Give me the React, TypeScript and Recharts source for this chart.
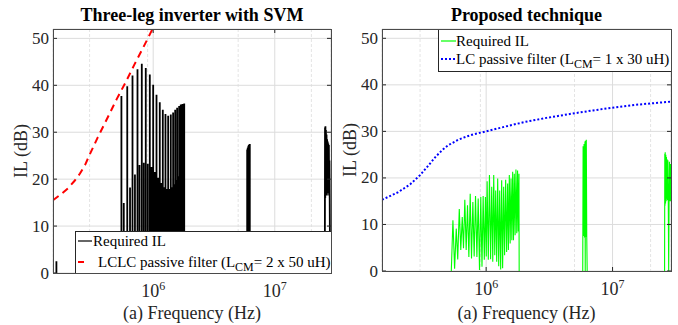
import { LineChart, Line, XAxis, YAxis, CartesianGrid, Legend } from "recharts";

const FONT = '"Liberation Serif", "Times New Roman", Times, serif';
const AXIS = "#262626";
const PLOT_TOP = 29;
const X_DOMAIN: [number, number] = [1.5e5, 2.9e7];

// tick values
const majorTicks = [1e6, 1e7];
const minorTicks = [2e5, 3e5, 4e5, 5e5, 6e5, 7e5, 8e5, 9e5, 2e6, 3e6, 4e6, 5e6, 6e6, 7e6, 8e6, 9e6, 2e7];
const dbTicks = [0, 10, 20, 30, 40, 50];

// --- Three-leg inverter with SVM: required IL (kHz / dB) ---
const svmLowKHz = [160];
const svmLowDb = [2.5];

const svmBandKHz = [548, 573, 612, 645, 676, 708, 743, 772, 806, 837, 869, 903, 938, 967, 1000, 1032, 1065, 1098, 1133, 1165, 1200, 1230, 1262, 1295, 1328, 1362, 1396, 1428, 1459, 1490, 1517, 1545, 1574, 1605, 1635, 1660, 1686, 1715, 1741, 1770, 1800];
const svmBandDb = [37.7, 14.9, 39.8, 18.2, 42.1, 21.0, 43.4, 23.0, 44.6, 23.5, 43.7, 23.3, 42.3, 22.6, 40.1, 21.5, 38.0, 20.3, 36.4, 19.2, 34.8, 18.3, 33.9, 17.9, 33.5, 17.9, 33.8, 18.3, 34.2, 18.9, 34.8, 19.8, 35.2, 20.6, 35.6, 21.5, 35.9, 22.4, 36.0, 23.4, 36.1];

const svmMidKHz = [5930, 5990, 6050, 6110, 6170, 6230];
const svmMidDb = [26.3, 26.7, 27.0, 27.3, 27.4, 27.5];

const svmHighKHz = [25800, 25900, 26000, 26100, 26200, 26350, 26500, 26650, 26800, 26950, 27100, 27250, 27400, 27550, 27700, 27850, 28000, 28150, 28300, 28500];
const svmHighDb = [0, 31.0, 16.0, 31.3, 16.5, 30.5, 16.5, 29.5, 16.5, 28.5, 17.0, 28.0, 17.0, 27.6, 17.0, 27.3, 16.5, 24.0, 15.5, 0];

// LCLC passive filter (LCM = 2 x 50 uH)
const lclcKHz = [150, 175, 200, 225, 250, 275, 300, 350, 400, 500, 600, 700, 800, 900, 1000];
const lclcDb = [15.5, 16.8, 18.1, 19.6, 21.2, 23.0, 25.2, 28.9, 31.9, 37.0, 40.9, 44.4, 47.3, 49.9, 52.3];

// --- Proposed technique: required IL (kHz / dB) ---
const propBandKHz = [530, 546, 563, 580, 596, 613, 630, 647, 662, 678, 695, 712, 730, 748, 766, 785, 804, 824, 845, 865, 886, 907, 927, 947, 967, 987, 1002, 1018, 1040, 1062, 1085, 1107, 1128, 1148, 1170, 1190, 1212, 1234, 1257, 1280, 1303, 1327, 1350, 1376, 1400, 1427, 1452, 1479, 1500, 1525, 1549, 1573, 1597, 1621, 1645, 1670, 1695, 1721, 1747, 1773, 1795, 1818, 1825];
const propBandDb = [0, 10.9, 0.5, 9.1, 2.5, 13.3, 4.5, 11.6, 4.9, 15.3, 4.5, 14.1, 3.0, 16.6, 2.7, 14.8, 3.1, 16.1, 3.0, 15.6, 0.2, 15.9, 0.9, 16.1, 2.4, 15.9, 3.1, 19.3, 2.4, 20.6, 2.5, 18.1, 2.0, 20.6, 3.4, 17.3, 2.0, 19.9, 1.0, 17.3, 0.3, 19.5, 0.6, 18.1, 3.4, 19.6, 4.1, 18.8, 4.5, 20.6, 5.9, 19.9, 6.6, 21.3, 6.6, 20.9, 7.7, 21.8, 8.1, 21.6, 8.5, 20.9, 0];

const propMidKHz = [5810, 5850, 5900, 5950, 6000, 6050, 6080, 6100, 6150, 6200, 6250, 6300];
const propMidDb = [0, 26.8, 7.5, 27.3, 7.2, 27.8, 0, 28.0, 7.3, 28.2, 7.5, 0];

const propHighKHz = [25800, 25900, 26000, 26100, 26250, 26400, 26550, 26700, 26850, 27000, 27200, 27400, 27600, 27800, 28000, 28200, 28400, 28600, 28800, 29000];
const propHighDb = [0, 25.2, 14.0, 25.5, 14.5, 25.0, 15.0, 24.5, 15.5, 24.0, 15.2, 23.8, 15.0, 0, 15.2, 23.5, 15.0, 23.0, 15.0, 23.0];

// LC passive filter (LCM = 1 x 30 uH)
const lcKHz = [150, 200, 250, 300, 350, 400, 450, 500, 600, 700, 800, 1000, 1500, 2000, 3000, 5000, 7000, 10000, 15000, 20000, 29000];
const lcDb = [15.3, 16.9, 18.6, 20.6, 22.7, 24.6, 26.0, 27.0, 28.2, 28.9, 29.4, 30.0, 31.2, 32.0, 32.9, 33.9, 34.5, 35.1, 35.7, 36.0, 36.4];

type Pt = { f: number; v: number | null };

const toPts = (khz: number[], db: number[]): Pt[] => khz.map((k, i) => ({ f: k * 1000, v: db[i] }));
// each harmonic drawn as a vertical spike from the floor
const toStems = (khz: number[], db: number[]): Pt[] =>
  khz.flatMap((k, i) => [
    { f: k * 1000, v: 0 },
    { f: k * 1000, v: db[i] },
    { f: k * 1000, v: 0 },
  ]);
const gap = (khz: number): Pt => ({ f: khz * 1000, v: null });

const svmRequired = [
  ...toStems(svmLowKHz, svmLowDb),
  gap(300),
  ...toStems(svmBandKHz, svmBandDb),
  gap(3000),
  ...toStems(svmMidKHz, svmMidDb),
  gap(15000),
  ...toPts(svmHighKHz, svmHighDb),
];
const propRequired = [
  ...toPts(propBandKHz, propBandDb),
  gap(3000),
  ...toPts(propMidKHz, propMidDb),
  gap(15000),
  ...toPts(propHighKHz, propHighDb),
];

interface Series {
  name: string;
  data: Pt[];
  color: string;
  width: number;
  dash?: string;
}

interface LegendRow {
  label: React.ReactNode;
  color: string;
  dash?: string;
  sample: [number, number];
  textLeft: number;
}

interface PanelProps {
  left: number;
  width: number;
  plotLeft: number;
  plotRight: number;
  plotBottom: number;
  title: string;
  series: Series[];
  legendBox: { left: number; top: number; width: number; height: number };
  legendRows: LegendRow[];
  rowCenters: number[];
}

const Panel = ({ left, width, plotLeft, plotRight, plotBottom, title, series, legendBox, legendRows, rowCenters }: PanelProps) => {
  const plotMid = (plotLeft + plotRight) / 2;

  const majorTick = (props: any) => {
    const { x, payload } = props;
    const exp = Math.round(Math.log10(payload.value));
    return (
      <g>
        <line x1={x} x2={x} y1={plotBottom} y2={plotBottom - 4} stroke={AXIS} />
        <line x1={x} x2={x} y1={PLOT_TOP} y2={PLOT_TOP + 4} stroke={AXIS} />
        <text x={x} y={plotBottom + 24} textAnchor="middle" fontFamily={FONT} fontSize={18} fill={AXIS}>
          10
          <tspan dy={-7} fontSize={12}>
            {exp}
          </tspan>
        </text>
      </g>
    );
  };

  const minorTick = (props: any) => {
    const { x } = props;
    return (
      <g>
        <line x1={x} x2={x} y1={plotBottom} y2={plotBottom - 2.5} stroke={AXIS} />
        <line x1={x} x2={x} y1={PLOT_TOP} y2={PLOT_TOP + 2.5} stroke={AXIS} />
      </g>
    );
  };

  const dbTick = (props: any) => {
    const { y, payload } = props;
    return (
      <g>
        <line x1={plotLeft} x2={plotLeft + 4} y1={y} y2={y} stroke={AXIS} />
        <line x1={plotRight} x2={plotRight - 4} y1={y} y2={y} stroke={AXIS} />
        <text x={plotLeft - 4} y={y} textAnchor="end" dominantBaseline="central" fontFamily={FONT} fontSize={17} fill={AXIS}>
          {payload.value}
        </text>
      </g>
    );
  };

  const xLabel = () => (
    <text x={plotMid} y={313} textAnchor="middle" dominantBaseline="central" fontFamily={FONT} fontSize={18} fill={AXIS}>
      (a) Frequency (Hz)
    </text>
  );

  const yCx = plotLeft - 32;
  const yCy = (PLOT_TOP + plotBottom) / 2;
  const yLabel = () => (
    <text
      x={yCx}
      y={yCy}
      transform={`rotate(-90 ${yCx} ${yCy})`}
      textAnchor="middle"
      dominantBaseline="central"
      fontFamily={FONT}
      fontSize={18}
      fill={AXIS}
    >
      IL (dB)
    </text>
  );

  const legendContent = () => (
    <div
      style={{
        position: "relative",
        width: legendBox.width,
        height: legendBox.height,
        boxSizing: "border-box",
        border: `1px solid ${AXIS}`,
        background: "#fff",
        fontFamily: FONT,
        fontSize: 15,
        color: "#000",
      }}
    >
      {legendRows.map((r, i) => (
        <div key={i}>
          <svg style={{ position: "absolute", left: 0, top: 0 }} width={legendBox.width} height={legendBox.height}>
            <line
              x1={r.sample[0]}
              x2={r.sample[1]}
              y1={rowCenters[i]}
              y2={rowCenters[i]}
              stroke={r.color}
              strokeWidth={r.dash ? 2 : 1.2}
              strokeDasharray={r.dash}
            />
          </svg>
          <div
            style={{
              position: "absolute",
              left: r.textLeft,
              top: rowCenters[i] - 10,
              height: 20,
              lineHeight: "20px",
              whiteSpace: "nowrap",
            }}
          >
            {r.label}
          </div>
        </div>
      ))}
    </div>
  );

  return (
    <div style={{ position: "absolute", left, top: 0, width, height: 325 }}>
      <div
        style={{
          position: "absolute",
          left: plotMid - 150,
          width: 300,
          top: 5,
          lineHeight: "20px",
          textAlign: "center",
          fontFamily: FONT,
          fontWeight: "bold",
          fontSize: 18,
          color: "#000",
        }}
      >
        {title}
      </div>
      <LineChart width={width} height={325} margin={{ top: PLOT_TOP, right: width - plotRight, left: 0, bottom: 0 }}>
        <CartesianGrid xAxisId="minor" horizontal={false} stroke="#e4e4e4" strokeDasharray="3 2" />
        <CartesianGrid xAxisId="main" stroke="#dcdcdc" />
        <XAxis
          xAxisId="minor"
          orientation="top"
          height={0}
          type="number"
          scale="log"
          dataKey="f"
          domain={X_DOMAIN}
          allowDataOverflow
          ticks={minorTicks}
          axisLine={false}
          tickLine={false}
          tickSize={0}
          tick={minorTick}
        />
        <XAxis
          xAxisId="main"
          type="number"
          scale="log"
          dataKey="f"
          domain={X_DOMAIN}
          allowDataOverflow
          ticks={majorTicks}
          height={325 - plotBottom}
          axisLine={false}
          tickLine={false}
          tickSize={0}
          tick={majorTick}
          label={xLabel}
        />
        <YAxis
          width={plotLeft}
          type="number"
          domain={[0, 52]}
          allowDataOverflow
          ticks={dbTicks}
          axisLine={false}
          tickLine={false}
          tickSize={0}
          tick={dbTick}
          label={yLabel}
        />
        {series.map((s) => (
          <Line
            key={s.name}
            xAxisId="main"
            data={s.data}
            dataKey="v"
            name={s.name}
            type="linear"
            stroke={s.color}
            strokeWidth={s.width}
            strokeDasharray={s.dash}
            dot={false}
            activeDot={false}
            isAnimationActive={false}
          />
        ))}
        <Legend
          layout="vertical"
          align="center"
          verticalAlign="middle"
          content={legendContent}
          wrapperStyle={{ left: legendBox.left, top: legendBox.top, width: legendBox.width, height: legendBox.height }}
        />
      </LineChart>
      <div
        style={{
          position: "absolute",
          left: plotLeft,
          top: PLOT_TOP,
          width: plotRight - plotLeft + 1,
          height: plotBottom - PLOT_TOP + 1,
          boxSizing: "border-box",
          border: "1px solid #4a4a4a",
          pointerEvents: "none",
        }}
      />
    </div>
  );
};

const cm = (text: string) => (
  <>
    {text.split("|")[0]}
    <span style={{ fontSize: 12, position: "relative", top: 4 }}>CM</span>
    {text.split("|")[1]}
  </>
);

export default function App() {
  return (
    <div style={{ position: "absolute", left: 0, top: 0, width: 678, height: 325, background: "#fff" }}>
      <Panel
        left={0}
        width={339}
        plotLeft={53}
        plotRight={331}
        plotBottom={273}
        title="Three-leg inverter with SVM"
        series={[
          { name: "Required IL", data: svmRequired, color: "#000000", width: 1.8 },
          { name: "LCLC passive filter", data: toPts(lclcKHz, lclcDb), color: "#ff0000", width: 2, dash: "7 5" },
        ]}
        legendBox={{ left: 75, top: 231, width: 257, height: 43 }}
        rowCenters={[9, 30]}
        legendRows={[
          { label: "Required IL", color: "#000", sample: [2, 16], textLeft: 17 },
          { label: cm("LCLC passive filter (L|= 2 x 50 uH)"), color: "#ff0000", dash: "6 20", sample: [2, 8], textLeft: 22 },
        ]}
      />
      <Panel
        left={339}
        width={339}
        plotLeft={43}
        plotRight={332}
        plotBottom={271}
        title="Proposed technique"
        series={[
          { name: "Required IL", data: propRequired, color: "#00ff00", width: 1.1 },
          { name: "LC passive filter", data: toPts(lcKHz, lcDb), color: "#0000ff", width: 2, dash: "2 2" },
        ]}
        legendBox={{ left: 99, top: 29, width: 234, height: 43 }}
        rowCenters={[11, 29]}
        legendRows={[
          { label: "Required IL", color: "#00ff00", sample: [2, 17], textLeft: 17 },
          { label: cm("LC passive filter (L|= 1 x 30 uH)"), color: "#0000ff", dash: "2 2", sample: [2, 17], textLeft: 17 },
        ]}
      />
    </div>
  );
}
